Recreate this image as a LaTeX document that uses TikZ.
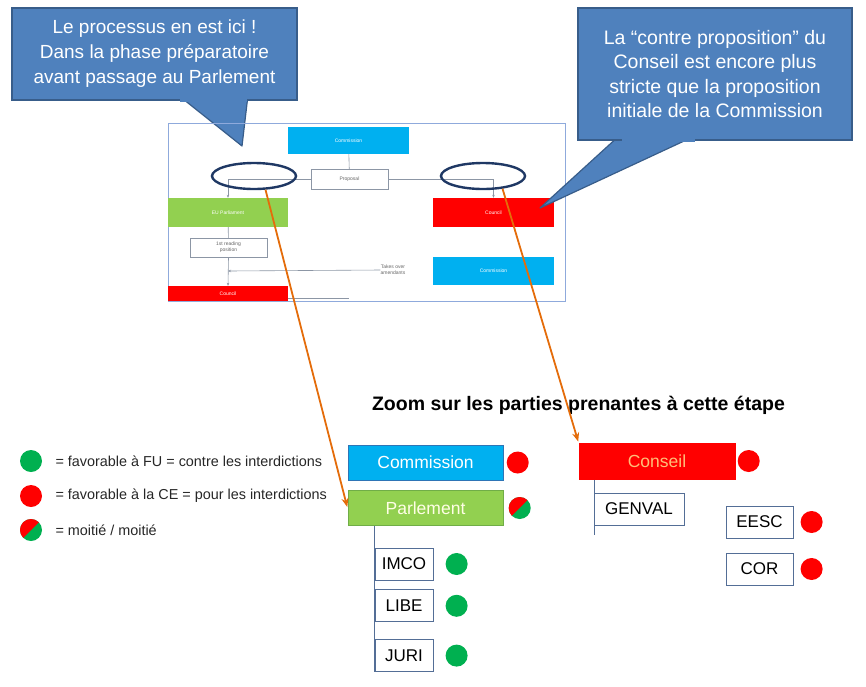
\documentclass[tikz,border=0pt]{standalone}
\usepackage{fontspec}
\setmainfont{Liberation Sans}
\usepackage{tikz}
\usetikzlibrary{arrows.meta}
\usetikzlibrary{positioning}
\usetikzlibrary{shapes.geometric}

\definecolor{callfill}{RGB}{79,129,189}
\definecolor{calldraw}{RGB}{56,93,138}
\definecolor{boxcyan}{RGB}{0,176,240}
\definecolor{boxcyanb}{RGB}{46,117,182}
\definecolor{boxgreen}{RGB}{146,208,80}
\definecolor{boxgreenb}{RGB}{112,173,71}
\definecolor{boxred}{RGB}{255,0,0}
\definecolor{dotgreen}{RGB}{0,176,80}
\definecolor{dotred}{RGB}{255,0,0}
\definecolor{arrorange}{RGB}{228,108,10}
\definecolor{ringblue}{RGB}{31,56,100}
\definecolor{framecol}{RGB}{143,170,220}
\definecolor{smallb}{RGB}{84,110,150}
\definecolor{flowline}{RGB}{140,150,165}
\definecolor{conseiltxt}{RGB}{255,190,120}

\begin{document}
\begin{tikzpicture}[x=1pt,y=-1pt,>=Stealth,
  bubble/.style={rectangle,fill=callfill,draw=calldraw,line width=1.2pt,text=white,
    align=center,inner sep=0pt},
  pointer/.style={fill=callfill,draw=calldraw,line width=1.2pt,line join=round},
  fbox/.style={rectangle,inner sep=0pt,text=white,font=\fontsize{5}{6}\selectfont,align=center},
  sbox/.style={rectangle,inner sep=0pt,minimum width=155pt,minimum height=35pt,
    font=\fontsize{17.5}{20}\selectfont,line width=1pt},
  tbox/.style={rectangle,draw=smallb,fill=white,inner sep=0pt,minimum height=32pt,
    font=\fontsize{17}{20}\selectfont,line width=0.8pt},
  dot/.style={circle,inner sep=0pt,minimum size=22pt},
  ring/.style={ellipse,draw=ringblue,line width=2.4pt,inner sep=0pt,minimum width=84pt,minimum height=26pt},
  fline/.style={draw=flowline,line width=0.6pt},
  legtext/.style={anchor=west,font=\fontsize{14.4}{17}\selectfont,text=black!85},
  zoomarr/.style={->,draw=arrorange,line width=1.8pt,shorten >=1pt,>={Stealth[length=9pt,width=7pt]}}]
\useasboundingbox (0,0) rectangle (866,686);

% callouts
\filldraw[pointer] (178,95) -- (242,146) -- (248,95);
\node[bubble,minimum width=285pt,minimum height=92pt,font=\fontsize{19}{25}\selectfont] (call_l) at (154.5,54)
  {Le processus en est ici !\\Dans la phase préparatoire\\avant passage au Parlement};
\fill[callfill] (180,98) rectangle (246.5,102);

% small flowchart
\draw[framecol,line width=0.8pt] (168,123) rectangle (565,301);
\node[fbox,fill=boxcyan,minimum width=121pt,minimum height=27pt] (f_com) at (348.5,140.5) {Commission};
\node[fbox,draw=flowline,fill=white,text=black!60,minimum width=77pt,minimum height=20pt] (f_prop) at (349.5,179) {Proposal};
\node[fbox,fill=boxgreen,minimum width=120pt,minimum height=29pt] (f_eup) at (228,212.5) {EU Parliament};
\node[fbox,fill=boxred,minimum width=121pt,minimum height=29pt] (f_cou) at (493.5,212.5) {Council};
\node[fbox,draw=flowline,fill=white,text=black!60,minimum width=77pt,minimum height=19pt] (f_read) at (228.5,247.5) {1st reading\\position};
\node[fbox,fill=boxcyan,minimum width=121pt,minimum height=28pt] (f_com2) at (493.5,271) {Commission};
\node[fbox,text=black!60] (f_takes) at (393,270) {Takes over\\amendants};
\node[fbox,fill=boxred,minimum width=120pt,minimum height=15pt] (f_cou2) at (228,293.5) {Council};
\coordinate (f_join) at (228,271);
\coordinate (f_end) at (349,298);
\path[fline] (f_com) edge (f_prop)
  (f_eup) edge (f_read);
\draw[fline,->,>={Stealth[length=3pt,width=2.5pt]}] (f_prop.west) -| (f_eup.north);
\draw[fline,->,>={Stealth[length=3pt,width=2.5pt]}] (f_prop.east) -| (f_cou.north);
\draw[fline,->,>={Stealth[length=3pt,width=2.5pt]}] (f_read.south) -- (f_cou2.north);
\draw[fline,->,>={Stealth[length=3pt,width=2.5pt]}] (f_takes.west) -- (f_join);
\draw[fline] (f_cou2.east |- f_end) -- (f_end);

\node[ring] (e_l) at (254,176) {};
\node[ring] (e_r) at (483,176) {};

\filldraw[pointer] (620,135) -- (540,208) -- (697,135);
\node[bubble,minimum width=274pt,minimum height=132pt,font=\fontsize{19.5}{24.5}\selectfont] (call_r) at (715,74)
  {La ``contre proposition'' du\\Conseil est encore plus\\stricte que la proposition\\initiale de la Commission};
\fill[callfill] (622,138) rectangle (694.5,142);

% zoom
\node[font=\fontsize{19.5}{22}\selectfont\bfseries] (title) at (578.5,405) {Zoom sur les parties prenantes à cette étape};

% legend
\node[dot,fill=dotgreen] (l_g) at (31,461) {};
\node[dot,fill=dotred] (l_r) at (31,496) {};
\node[dot,fill=dotgreen] (l_m) at (31,530) {};
\fill[dotred] (l_m.center) ++(135:11) arc (135:315:11) -- cycle;
\node[legtext] at (52,461) {= favorable à FU = contre les interdictions};
\node[legtext] at (52,496) {= favorable à la CE = pour les interdictions};
\node[legtext] at (52,530) {= moitié / moitié};

% commission / parlement
\node[sbox,fill=boxcyan,draw=boxcyanb,text=white] (s_com) at (425.5,462.5) {Commission};
\node[sbox,fill=boxgreen,draw=boxgreenb,text=white!90!yellow] (s_par) at (425.5,508) {Parlement};
\node[dot,fill=dotred,right=3pt of s_com] (d_com) {};
\node[dot,fill=dotgreen,right=5pt of s_par] (d_par) {};
\fill[dotred] (d_par.center) ++(135:11) arc (135:315:11) -- cycle;
\node[tbox,minimum width=58pt] (imco) at (404,564) {IMCO};
\node[tbox,minimum width=58pt,below=9pt of imco] (libe) {LIBE};
\node[tbox,minimum width=58pt,below=17pt of libe] (juri) {JURI};
\node[dot,fill=dotgreen,right=12pt of imco] (d_imco) {};
\node[dot,fill=dotgreen,right=12pt of libe] (d_libe) {};
\node[dot,fill=dotgreen,right=12pt of juri] (d_juri) {};
\draw[smallb,line width=0.8pt] (s_par.south -| imco.west) -- (juri.south west);

% conseil
\node[sbox,fill=boxred,draw=boxred,text=conseiltxt,minimum width=156pt,minimum height=36pt] (s_con) at (657,461) {Conseil};
\node[dot,fill=dotred,right=2pt of s_con] (d_con) {};
\node[tbox,minimum width=90pt] (genval) at (639,509) {GENVAL};
\coordinate (g_end) at (594,535);
\draw[smallb,line width=0.8pt] (s_con.south -| g_end) -- (g_end);
\node[tbox,minimum width=67pt] (eesc) at (759.5,522) {EESC};
\node[tbox,minimum width=67pt] (cor) at (759.5,569) {COR};
\node[dot,fill=dotred,right=7pt of eesc] (d_eesc) {};
\node[dot,fill=dotred,right=7pt of cor] (d_cor) {};

% orange arrows
\draw[zoomarr] (e_l.-50) -- (s_par.west);
\draw[zoomarr] (e_r.-33) -- (s_con.north west);
\end{tikzpicture}
\end{document}
